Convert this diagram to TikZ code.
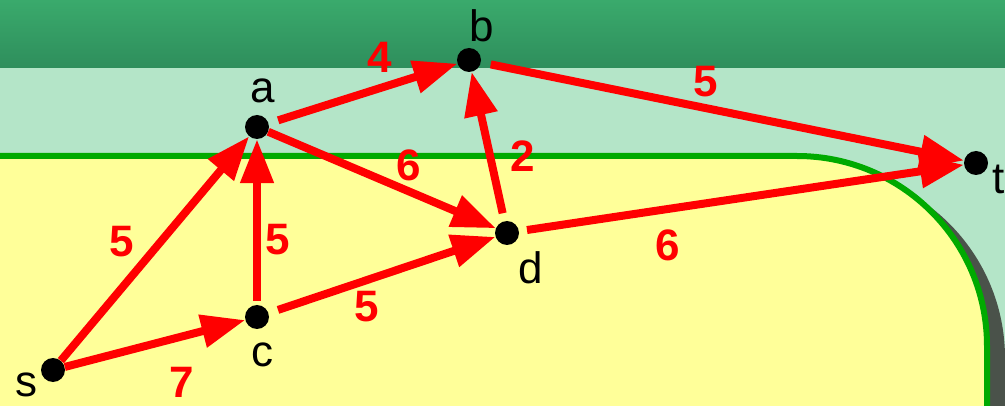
\documentclass[tikz,border=0pt]{standalone}
\usepackage{fontspec}
\setmainfont{Liberation Sans}
\usetikzlibrary{arrows.meta,positioning}
\definecolor{bandtop}{RGB}{58,170,108}
\definecolor{bandbot}{RGB}{46,142,92}
\definecolor{paleband}{RGB}{180,229,200}
\definecolor{paleyellow}{RGB}{255,255,153}
\definecolor{bordergreen}{RGB}{0,170,0}
\definecolor{shadowgray}{RGB}{74,82,74}
\definecolor{arrowred}{RGB}{255,0,0}

\begin{document}
\begin{tikzpicture}[x=1pt, y=-1pt, >={Triangle[length=44pt,width=32pt]},
  vertex/.style={circle, fill=black, minimum size=24pt, inner sep=0pt},
  lbl/.style={font=\fontsize{44}{44}\selectfont, inner sep=0pt},
  wt/.style={font=\fontsize{44}{44}\selectfont\bfseries, text=arrowred, inner sep=0pt},
  link/.style={->, draw=arrowred, line width=8pt}]
  % background
  \useasboundingbox (0,0) rectangle (1005,406);
  \fill[paleband] (0,0) rectangle (1005,406);
  \shade[top color=bandtop, bottom color=bandbot] (0,0) rectangle (1005,68);
  \fill[shadowgray, rounded corners=190pt] (-400,168) rectangle (1005,800);
  \filldraw[fill=paleyellow, draw=bordergreen, line width=6pt, rounded corners=190pt] (-400,156) rectangle (987,800);

  % vertices
  \node[vertex] (s) at (53,370) {};
  \node[vertex] (a) at (257,127) {};
  \node[vertex] (b) at (469,60) {};
  \node[vertex] (c) at (257,317) {};
  \node[vertex] (d) at (507,233) {};
  \node[vertex] (t) at (976,163) {};

  \node[lbl] (sname) at (27,385) {s};
  \node[lbl] (aname) at (263,91) {a};
  \node[lbl] (bname) at (482,26) {b};
  \node[lbl] (cname) at (262,355) {c};
  \node[lbl] (dname) at (531,268) {d};
  \node[lbl] (tname) at (999,179) {t};

  % edges
  \draw[link] (s) -- (a);
  \draw[link] (s) -- (c);
  \draw[link, shorten <=4pt] (c) -- (a);
  \draw[link, shorten <=10pt] (c) -- (d);
  \draw[link, shorten <=10pt] (a) -- (b);
  \draw[link] (a) -- (d);
  \draw[link, shorten <=8pt] (d) -- (b);
  \draw[link, shorten <=10pt] (b) -- (t);
  \draw[link, shorten <=8pt] (d) -- (t);

  % weights
  \node[wt] (wsa) at (122,242) {5};
  \node[wt] (wsc) at (182,382) {7};
  \node[wt] (wca) at (278,240) {5};
  \node[wt] (wcd) at (367,307) {5};
  \node[wt] (wab) at (380,57) {4};
  \node[wt] (wad) at (409,165) {6};
  \node[wt] (wdb) at (523,156) {2};
  \node[wt] (wbt) at (706,82) {5};
  \node[wt] (wdt) at (668,245) {6};
\end{tikzpicture}
\end{document}
